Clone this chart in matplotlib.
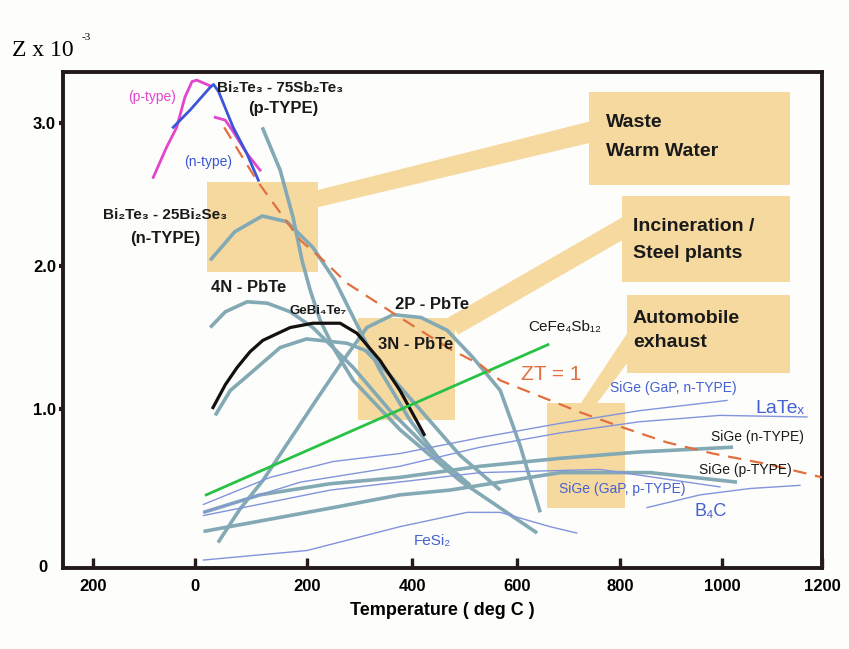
import matplotlib
matplotlib.use('Agg')
import numpy as np
import matplotlib.pyplot as plt
from matplotlib.patches import Rectangle, Polygon

# ---------------- data (Temperature in deg C, Z x 10^-3) ----------------
x_ticks = [-200, 0, 200, 400, 600, 800, 1000, 1200]
x_tick_labels = ['200', '0', '200', '400', '600', '800', '1000', '1200']
y_ticks = [1.0, 2.0, 3.0]
y_tick_labels = ['1.0', '2.0', '3.0']

# Bi2Te3 p-type (magenta) - two pieces
mag_a_T = [-82, -56, -36, -20, -6, 3, 15, 27]
mag_a_Z = [2.62, 2.83, 2.97, 3.18, 3.29, 3.30, 3.28, 3.26]
mag_b_T = [36, 54, 68, 92, 116]
mag_b_Z = [3.04, 3.02, 2.94, 2.79, 2.67]
# Bi2Te3 n-type (blue)
ntype_T = [-43, -10, 27, 33, 42, 68, 92, 113]
ntype_Z = [2.97, 3.09, 3.25, 3.27, 3.22, 2.97, 2.79, 2.60]

# ZT = 1 line
zt1_T = [52, 80, 110, 188, 231, 276, 377, 472, 530, 568, 616, 722, 800, 892, 982, 1096, 1200]
zt1_Z = [2.97, 2.79, 2.60, 2.18, 2.04, 1.88, 1.64, 1.42, 1.31, 1.20, 1.13, 0.98, 0.89, 0.79, 0.72, 0.65, 0.57]

# Bi2Te3-75Sb2Te3 (p-TYPE)
bst_p_T = [120, 152, 175, 191, 206, 225, 253, 288, 377, 491, 639]
bst_p_Z = [2.97, 2.67, 2.34, 2.04, 1.83, 1.62, 1.41, 1.20, 0.87, 0.55, 0.22]
# Bi2Te3-25Bi2Se3 (n-TYPE)
bts_n_T = [27, 71, 120, 164, 211, 253, 291, 339, 396, 453]
bts_n_Z = [2.04, 2.24, 2.35, 2.31, 2.13, 1.90, 1.62, 1.27, 0.93, 0.68]
# 4N-PbTe
pbte4n_T = [27, 54, 93, 129, 170, 211, 288, 358, 434, 511]
pbte4n_Z = [1.57, 1.68, 1.75, 1.74, 1.68, 1.57, 1.29, 0.99, 0.74, 0.52]
# 3N-PbTe
pbte3n_T = [36, 63, 93, 152, 199, 276, 311, 357, 417, 491, 568]
pbte3n_Z = [0.96, 1.13, 1.23, 1.43, 1.49, 1.46, 1.41, 1.24, 0.99, 0.71, 0.49]
# 2P-PbTe
pbte2p_T = [41, 80, 121, 170, 217, 263, 314, 364, 417, 467, 516, 568, 606, 645]
pbte2p_Z = [0.16, 0.37, 0.55, 0.81, 1.06, 1.31, 1.57, 1.66, 1.64, 1.55, 1.36, 1.13, 0.77, 0.35]
# GeBi4Te7
gbt_T = [32, 54, 75, 98, 121, 170, 211, 263, 295, 339, 377, 423]
gbt_Z = [1.01, 1.17, 1.29, 1.40, 1.48, 1.57, 1.60, 1.60, 1.53, 1.34, 1.13, 0.84]
# CeFe4Sb12
cefe_T = [20, 660]
cefe_Z = [0.46, 1.45]
# SiGe (n-TYPE), SiGe (p-TYPE)
sige_n_T = [15, 116, 244, 377, 530, 684, 839, 1022]
sige_n_Z = [0.35, 0.46, 0.53, 0.57, 0.64, 0.69, 0.73, 0.76]
sige_p_T = [15, 250, 377, 472, 684, 859, 1030]
sige_p_Z = [0.23, 0.38, 0.46, 0.49, 0.60, 0.60, 0.54]
# thin lines
gapn_T = [15, 134, 250, 377, 530, 684, 839, 1010]
gapn_Z = [0.40, 0.57, 0.67, 0.72, 0.82, 0.91, 0.99, 1.06]
late_T = [15, 188, 377, 530, 684, 839, 996, 1170]
late_Z = [0.35, 0.54, 0.64, 0.76, 0.85, 0.92, 0.96, 0.95]
gapp_T = [15, 244, 530, 761, 996]
gapp_Z = [0.33, 0.49, 0.60, 0.62, 0.51]
b4c_T = [853, 957, 1056, 1156]
b4c_Z = [0.38, 0.46, 0.50, 0.52]
fesi_T = [15, 200, 377, 505, 568, 664, 716]
fesi_Z = [0.05, 0.11, 0.26, 0.35, 0.35, 0.26, 0.22]

# ---------------- style ----------------
SANS = ['Liberation Sans', 'DejaVu Sans']
TEAL = '#83a9b5'
THIN = '#8294dc'
LBLUE = '#4461d2'
BEIGE = '#f6d99f'
ORANGE = '#e2703e'
INK = '#241a1a'

# the scanned axes are slightly uneven: piecewise-linear axis scales
_xk = np.array([-2000, -200, 0, 200, 400, 600, 800, 1000, 1200, 3000], float)
_xp = np.array([93 - 1800 * 0.51, 93, 195, 307, 412, 517, 620, 722, 822, 822 + 1800 * 0.5])
_yk = np.array([-5, 0, 1, 2, 3, 8], float)
_yp = np.array([-5 * 159, 0, 159, 302, 445, 445 + 5 * 143], float)

def fx(v): return np.interp(v, _xk, _xp)
def ix(v): return np.interp(v, _xp, _xk)
def fy(v): return np.interp(v, _yk, _yp)
def iy(v): return np.interp(v, _yp, _yk)

fig = plt.figure(figsize=(8.49, 6.49), dpi=100, facecolor='#fdfdfb')
ax = fig.add_axes([63/849, 1-568/649, (822-63)/849, (568-72)/649])
ax.set_facecolor('#fdfdfb')
ax.set_xscale('function', functions=(fx, ix))
ax.set_yscale('function', functions=(fy, iy))
ax.set_xlim(-259, 1200)
ax.set_ylim(0, 3.357)

# beige boxes and connectors
for (x0, y0, x1, y1) in [(21, 1.96, 221, 2.59), (297, 0.93, 482, 1.64), (658, 0.38, 810, 1.04),
                         (739, 2.57, 1136, 3.22), (803, 1.89, 1136, 2.49), (813, 1.25, 1136, 1.80)]:
    ax.add_patch(Rectangle((x0, y0), x1-x0, y1-y0, color=BEIGE, lw=0, zorder=1))
for poly in [[(219, 2.53), (219, 2.41), (740, 2.86), (740, 3.01)],
             [(469, 1.64), (488, 1.52), (804, 2.18), (804, 2.34)],
             [(722, 1.03), (753, 1.03), (814, 1.32), (814, 1.53)]]:
    ax.add_patch(Polygon(poly, closed=True, color=BEIGE, lw=0, zorder=1))

kw_teal = dict(color=TEAL, lw=2.6, solid_capstyle='butt', zorder=3)
for T, Z in [(bst_p_T, bst_p_Z), (bts_n_T, bts_n_Z), (pbte4n_T, pbte4n_Z), (pbte3n_T, pbte3n_Z),
             (pbte2p_T, pbte2p_Z), (sige_n_T, sige_n_Z), (sige_p_T, sige_p_Z)]:
    ax.plot(T, Z, **kw_teal)
for T, Z in [(gapn_T, gapn_Z), (late_T, late_Z), (gapp_T, gapp_Z), (b4c_T, b4c_Z), (fesi_T, fesi_Z)]:
    ax.plot(T, Z, color=THIN, lw=1.0, zorder=3)
ax.plot(gbt_T, gbt_Z, color='#151010', lw=2.3, zorder=4)
ax.plot(cefe_T, cefe_Z, color='#27c244', lw=2.0, zorder=4)
ax.plot(mag_a_T, mag_a_Z, color='#e245cc', lw=2.0, zorder=4)
ax.plot(mag_b_T, mag_b_Z, color='#e245cc', lw=2.0, zorder=4)
ax.plot(ntype_T, ntype_Z, color='#3a55d8', lw=2.0, zorder=5)
ax.plot(zt1_T, zt1_Z, color=ORANGE, lw=1.6, dashes=(6, 4), zorder=5)

# axes styling
for s in ax.spines.values():
    s.set_linewidth(2.8)
    s.set_color(INK)
ax.set_xticks(x_ticks)
ax.set_xticklabels(x_tick_labels, fontfamily=SANS, fontweight='bold', fontsize=12)
ax.set_yticks(y_ticks)
ax.set_yticklabels(y_tick_labels, fontfamily=SANS, fontweight='bold', fontsize=12)
ax.tick_params(axis='x', direction='in', length=7, width=2.4, color=INK, pad=8)
ax.tick_params(axis='y', direction='out', length=3, width=3, color=INK, pad=2)
ax.text(-0.02, 0, '0', transform=ax.get_yaxis_transform(), ha='right', va='center',
        fontfamily=SANS, fontweight='bold', fontsize=12)
ax.set_xlabel('Temperature ( deg C )', fontfamily=SANS, fontweight='bold', fontsize=13, labelpad=6)
fig.text(12/849, 1-50/649, 'Z x 10', family=['Liberation Serif'], fontsize=17, va='center', ha='left')
fig.text(82/849, 1-38/649, '-3', family=['Liberation Serif'], fontsize=8, va='center', ha='left')

def lab(x, y, s, size=12, color='#1a1a1a', weight='bold', ha='center'):
    ax.text(x, y, s, fontsize=size, color=color, fontweight=weight, family=SANS,
            ha=ha, va='center', zorder=6)

lab(152, 3.245, 'Bi₂Te₃ - 75Sb₂Te₃', 11)
lab(157, 3.10, '(p-TYPE)', 12)
lab(-59, 2.357, 'Bi₂Te₃ - 25Bi₂Se₃', 11)
lab(-59, 2.19, '(n-TYPE)', 12)
lab(95, 1.853, '4N - PbTe', 12)
lab(220, 1.685, 'GeBi₄Te₇', 9.5)
lab(438, 1.734, '2P - PbTe', 12)
lab(406, 1.448, '3N - PbTe', 12)
lab(693, 1.573, 'CeFe₄Sb₁₂', 11, weight='normal')
lab(-84, 3.182, '(p-type)', 10, color='#e245cc', weight='normal')
lab(23, 2.727, '(n-type)', 10, color='#3a55d8', weight='normal')
lab(667, 1.238, 'ZT = 1', 15, color=ORANGE, weight='normal')
lab(904, 1.147, 'SiGe (GaP, n-TYPE)', 10, color=LBLUE, weight='normal')
lab(1116, 1.006, 'LaTeₓ', 14, color=LBLUE, weight='normal')
lab(1070, 0.824, 'SiGe (n-TYPE)', 10, weight='normal')
lab(1046, 0.616, 'SiGe (p-TYPE)', 10, weight='normal')
lab(804, 0.497, 'SiGe (GaP, p-TYPE)', 10, color=LBLUE, weight='normal')
lab(978, 0.358, 'B₄C', 13, color=LBLUE, weight='normal')
lab(438, 0.170, 'FeSi₂', 11, color=LBLUE, weight='normal')
lab(772, 3.007, 'Waste', 14, ha='left')
lab(772, 2.804, 'Warm Water', 14, ha='left')
lab(825, 2.273, 'Incineration /', 14, ha='left')
lab(825, 2.091, 'Steel plants', 14, ha='left')
lab(825, 1.636, 'Automobile', 14, ha='left')
lab(825, 1.462, 'exhaust', 14, ha='left')

fig.savefig('out.png', dpi=100, facecolor=fig.get_facecolor())
